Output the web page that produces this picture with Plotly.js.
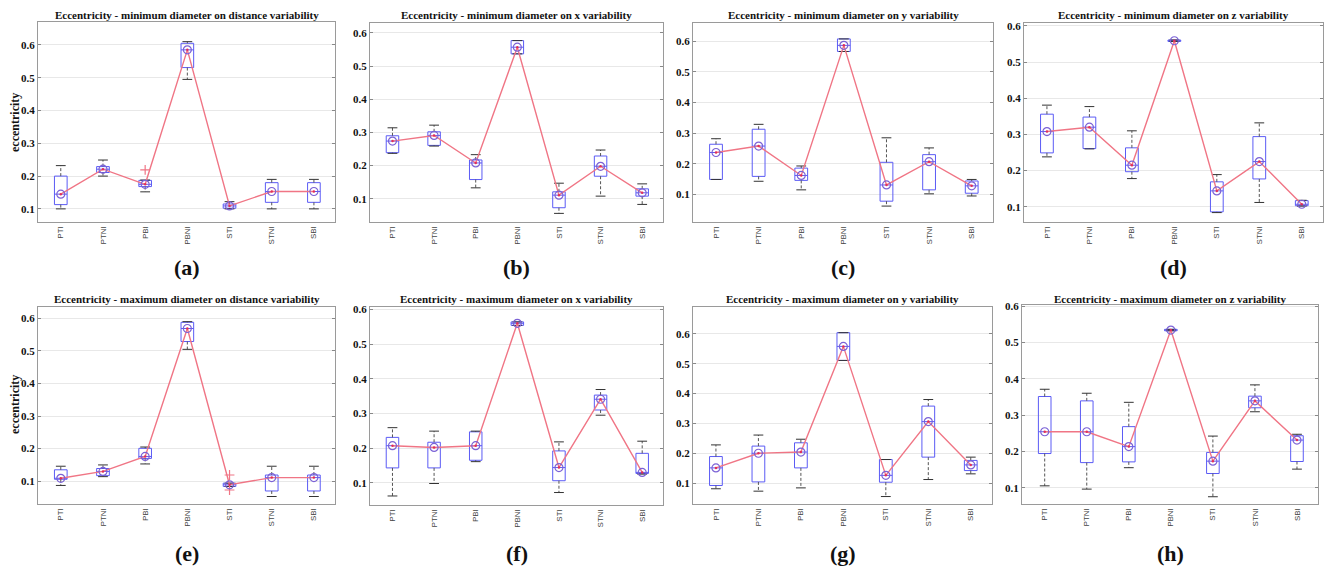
<!DOCTYPE html>
<html>
<head>
<meta charset="utf-8">
<script src="https://cdn.plot.ly/plotly-3.0.1.min.js"></script>
<style>html,body{margin:0;padding:0;background:#fff;}#chart{width:1326px;height:568px;}</style>
</head>
<body>
<div id="chart"></div>
<script>
const categories = ['PTI','PTNI','PBI','PBNI','STI','STNI','SBI'];
const yTickVals = [0.1, 0.2, 0.3, 0.4, 0.5, 0.6];
const yTickText = ['0.1', '0.2', '0.3', '0.4', '0.5', '0.6'];
const panelTitles = [
  'Eccentricity - minimum diameter on distance variability',
  'Eccentricity - minimum diameter on x variability',
  'Eccentricity - minimum diameter on y variability',
  'Eccentricity - minimum diameter on z variability',
  'Eccentricity - maximum diameter on distance variability',
  'Eccentricity - maximum diameter on x variability',
  'Eccentricity - maximum diameter on y variability',
  'Eccentricity - maximum diameter on z variability'
];
const panelLabels = ['(a)','(b)','(c)','(d)','(e)','(f)','(g)','(h)'];
const yLabel = 'eccentricity';

// (a) minimum diameter, distance
const aQ1   = [0.113, 0.211, 0.168, 0.531, 0.102, 0.120, 0.120];
const aQ3   = [0.200, 0.229, 0.187, 0.605, 0.115, 0.180, 0.180];
const aLow  = [0.100, 0.200, 0.152, 0.495, 0.100, 0.100, 0.100];
const aHigh = [0.232, 0.249, 0.188, 0.610, 0.122, 0.190, 0.190];
const aMean = [0.145, 0.221, 0.175, 0.585, 0.109, 0.153, 0.153];
const aOutX = ['PBI'];
const aOutY = [0.219];

// (b) minimum diameter, x
const bQ1   = [0.239, 0.261, 0.158, 0.537, 0.073, 0.168, 0.108];
const bQ3   = [0.290, 0.302, 0.217, 0.577, 0.121, 0.229, 0.130];
const bLow  = [0.237, 0.259, 0.133, 0.537, 0.056, 0.108, 0.083];
const bHigh = [0.314, 0.322, 0.233, 0.577, 0.147, 0.247, 0.145];
const bMean = [0.274, 0.291, 0.208, 0.557, 0.111, 0.198, 0.118];

// (c) minimum diameter, y
const cQ1   = [0.149, 0.159, 0.146, 0.567, 0.078, 0.115, 0.104];
const cQ3   = [0.264, 0.313, 0.186, 0.608, 0.205, 0.230, 0.144];
const cLow  = [0.149, 0.143, 0.115, 0.567, 0.062, 0.102, 0.095];
const cHigh = [0.282, 0.329, 0.193, 0.608, 0.285, 0.252, 0.149];
const cMean = [0.237, 0.258, 0.162, 0.587, 0.131, 0.207, 0.128];

// (d) minimum diameter, z
const dQ1   = [0.249, 0.261, 0.197, 0.557, 0.086, 0.177, 0.103];
const dQ3   = [0.356, 0.348, 0.263, 0.561, 0.169, 0.294, 0.117];
const dLow  = [0.238, 0.260, 0.178, 0.557, 0.084, 0.112, 0.102];
const dHigh = [0.381, 0.377, 0.310, 0.561, 0.189, 0.332, 0.118];
const dMean = [0.308, 0.320, 0.215, 0.559, 0.144, 0.225, 0.107];

// (e) maximum diameter, distance
const eQ1   = [0.106, 0.117, 0.170, 0.529, 0.084, 0.070, 0.070];
const eQ3   = [0.135, 0.139, 0.201, 0.588, 0.094, 0.119, 0.119];
const eLow  = [0.087, 0.114, 0.153, 0.505, 0.084, 0.053, 0.053];
const eHigh = [0.146, 0.150, 0.205, 0.590, 0.094, 0.146, 0.146];
const eMean = [0.109, 0.130, 0.176, 0.569, 0.089, 0.111, 0.111];
const eOutX = ['STI', 'STI'];
const eOutY = [0.119, 0.073];

// (f) maximum diameter, x
const fQ1   = [0.143, 0.143, 0.165, 0.554, 0.106, 0.310, 0.127];
const fQ3   = [0.231, 0.217, 0.247, 0.564, 0.192, 0.353, 0.185];
const fLow  = [0.062, 0.098, 0.161, 0.554, 0.072, 0.295, 0.125];
const fHigh = [0.259, 0.249, 0.249, 0.564, 0.218, 0.369, 0.220];
const fMean = [0.207, 0.202, 0.207, 0.560, 0.144, 0.341, 0.130];

// (g) maximum diameter, y
const gQ1   = [0.092, 0.104, 0.151, 0.511, 0.103, 0.187, 0.142];
const gQ3   = [0.189, 0.224, 0.235, 0.604, 0.179, 0.358, 0.176];
const gLow  = [0.081, 0.073, 0.084, 0.511, 0.055, 0.112, 0.131];
const gHigh = [0.228, 0.261, 0.247, 0.604, 0.179, 0.380, 0.187];
const gMean = [0.151, 0.200, 0.204, 0.558, 0.126, 0.306, 0.161];

// (h) maximum diameter, z
const hQ1   = [0.194, 0.169, 0.171, 0.532, 0.139, 0.320, 0.172];
const hQ3   = [0.351, 0.339, 0.268, 0.536, 0.197, 0.352, 0.243];
const hLow  = [0.105, 0.096, 0.155, 0.532, 0.075, 0.309, 0.151];
const hHigh = [0.371, 0.360, 0.335, 0.536, 0.242, 0.383, 0.247];
const hMean = [0.254, 0.254, 0.213, 0.534, 0.173, 0.339, 0.231];

const panels = [
  {q1:aQ1,q3:aQ3,lo:aLow,hi:aHigh,mean:aMean,outX:aOutX,outY:aOutY},
  {q1:bQ1,q3:bQ3,lo:bLow,hi:bHigh,mean:bMean},
  {q1:cQ1,q3:cQ3,lo:cLow,hi:cHigh,mean:cMean},
  {q1:dQ1,q3:dQ3,lo:dLow,hi:dHigh,mean:dMean},
  {q1:eQ1,q3:eQ3,lo:eLow,hi:eHigh,mean:eMean,outX:eOutX,outY:eOutY},
  {q1:fQ1,q3:fQ3,lo:fLow,hi:fHigh,mean:fMean},
  {q1:gQ1,q3:gQ3,lo:gLow,hi:gHigh,mean:gMean},
  {q1:hQ1,q3:hQ3,lo:hLow,hi:hHigh,mean:hMean}
];

// layout geometry (pixels)
const W = 1326, H = 568;
const xPx = [[38,335],[370,663],[693,993],[1024,1323],[38,335],[370,663],[693,992],[1022,1318]];
const yPx = [[22,222],[23,222],[23,222],[23,222],[307,504],[307,505],[307,504],[305,504]];
const yRanges = [[0.06,0.67],[0.03,0.63],[0.01,0.66],[0.058,0.608],[0.03,0.635],[0.036,0.607],[0.03,0.69],[0.055,0.603]];
const titleY = [15,15,15,15,299,299,299,299];
const labelY = [267,267,267,267,553,553,553,553];

const SERIF = 'Liberation Serif';
const BOX = '#5b5bf5', RED = '#f07585', PURPLE = '#7b62d6';
const data = [];
const layout = {
  width: W, height: H,
  margin: {l:0, r:0, t:0, b:0},
  paper_bgcolor: '#fff', plot_bgcolor: '#fff',
  font: {family: SERIF, color: '#111'},
  showlegend: false,
  annotations: []
};

panels.forEach((p, k) => {
  const n = k + 1;
  const xa = 'x' + (n === 1 ? '' : n), ya = 'y' + (n === 1 ? '' : n);
  const pos = categories.map((c, i) => i);
  data.push({
    type: 'box', xaxis: xa, yaxis: ya,
    x: pos, q1: p.q1, median: p.mean, q3: p.q3,
    lowerfence: p.q1, upperfence: p.q3,
    width: 0.3, whiskerwidth: 0,
    fillcolor: 'rgba(0,0,0,0)',
    line: {color: BOX, width: 1},
    hoverinfo: 'skip'
  });
  const wx = [], wy = [];
  pos.forEach(i => {
    wx.push(i, i, null, i, i, null);
    wy.push(p.q3[i], p.hi[i], null, p.q1[i], p.lo[i], null);
  });
  data.push({
    type: 'scatter', mode: 'lines', xaxis: xa, yaxis: ya,
    x: wx, y: wy, line: {color: '#555', width: 1, dash: '3px,2px'},
    hoverinfo: 'skip'
  });
  data.push({
    type: 'scatter', mode: 'markers', xaxis: xa, yaxis: ya,
    x: pos.concat(pos), y: p.hi.concat(p.lo),
    marker: {symbol: 'line-ew', size: 7, line: {color: '#333', width: 1}},
    hoverinfo: 'skip'
  });
  if (p.outX) {
    data.push({
      type: 'scatter', mode: 'markers', xaxis: xa, yaxis: ya,
      x: p.outX.map(c => categories.indexOf(c)), y: p.outY,
      marker: {symbol: 'cross-thin', size: 7, line: {color: RED, width: 1.2}},
      hoverinfo: 'skip'
    });
  }
  data.push({
    type: 'scatter', mode: 'lines', xaxis: xa, yaxis: ya,
    x: pos, y: p.mean, line: {color: RED, width: 1.4},
    hoverinfo: 'skip'
  });
  data.push({
    type: 'scatter', mode: 'markers', xaxis: xa, yaxis: ya,
    x: pos, y: p.mean,
    marker: {symbol: 'circle-open', size: 8, color: PURPLE, line: {color: PURPLE, width: 1.2}},
    hoverinfo: 'skip'
  });
  data.push({
    type: 'scatter', mode: 'markers', xaxis: xa, yaxis: ya,
    x: pos, y: p.mean,
    marker: {symbol: 'circle', size: 2.5, color: '#e0305a'},
    hoverinfo: 'skip'
  });

  const xd = [xPx[k][0] / W, xPx[k][1] / W];
  const yd = [1 - yPx[k][1] / H, 1 - yPx[k][0] / H];
  layout['xaxis' + (n === 1 ? '' : n)] = {
    domain: xd, anchor: ya, range: [-0.54, 6.5],
    tickmode: 'array', tickvals: pos, ticktext: categories,
    tickangle: -90, ticks: '', showgrid: false, zeroline: false,
    showline: true, mirror: true, linecolor: '#9a9a9a', linewidth: 1,
    tickfont: {family: 'Liberation Sans', size: 8, color: '#444'},
    fixedrange: true
  };
  layout['yaxis' + (n === 1 ? '' : n)] = {
    domain: yd, anchor: xa, range: yRanges[k],
    tickmode: 'array', tickvals: yTickVals,
    ticktext: yTickText.map(t => '<b>' + t + '</b>'),
    ticks: 'inside', ticklen: 3, tickcolor: '#888',
    showgrid: true, gridcolor: '#e8e8e8', zeroline: false,
    showline: true, mirror: 'ticks', linecolor: '#9a9a9a', linewidth: 1,
    tickfont: {family: SERIF, size: 11, color: '#111'},
    fixedrange: true
  };
  const cx = (xd[0] + xd[1]) / 2;
  layout.annotations.push({
    xref: 'paper', yref: 'paper', x: cx, y: 1 - titleY[k] / H,
    xanchor: 'center', yanchor: 'middle', showarrow: false,
    text: '<b>' + panelTitles[k] + '</b>',
    font: {family: SERIF, size: 11, color: '#111'}
  });
  layout.annotations.push({
    xref: 'paper', yref: 'paper', x: cx, y: 1 - labelY[k] / H,
    xanchor: 'center', yanchor: 'middle', showarrow: false,
    text: '<b>' + panelLabels[k] + '</b>',
    font: {family: SERIF, size: 22, color: '#111'}
  });
});

[123, 405].forEach((v) => {
  layout.annotations.push({
    xref: 'paper', yref: 'paper', x: 15 / W, y: 1 - v / H,
    xanchor: 'center', yanchor: 'middle', showarrow: false, textangle: -90,
    text: '<b>' + yLabel + '</b>',
    font: {family: SERIF, size: 12, color: '#111'}
  });
});

Plotly.newPlot('chart', data, layout, {staticPlot: true, displayModeBar: false});
</script>
</body>
</html>
